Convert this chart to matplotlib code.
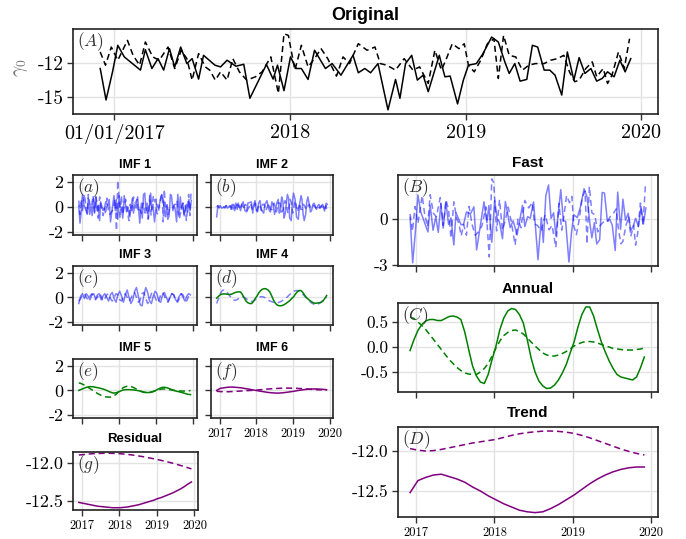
import matplotlib.pyplot as plt

plt.rcParams["mathtext.fontset"] = "cm"

W, H = 686, 539
OUT = "out.png"

BLUE = (0.0, 0.0, 1.0, 0.5)
GREEN = "#008000"
PURPLE = "#800080"
DASH = (0, (4, 2.5))

# --- original series (decimal years, gamma_0) ---
t_solid = [2016.920, 2016.953, 2016.990, 2017.020, 2017.057, 2017.149, 2017.177, 2017.214, 2017.249, 2017.281,
           2017.314, 2017.344, 2017.378, 2017.413, 2017.443, 2017.480, 2017.508, 2017.573, 2017.605, 2017.642,
           2017.692, 2017.737, 2017.772, 2017.866, 2017.904, 2017.929, 2017.966, 2018.003, 2018.036, 2018.065,
           2018.103, 2018.140, 2018.202, 2018.240, 2018.290, 2018.359, 2018.389, 2018.426, 2018.459, 2018.501,
           2018.558, 2018.601, 2018.626, 2018.658, 2018.693, 2018.725, 2018.758, 2018.787, 2018.850, 2018.882,
           2018.912, 2018.954, 2018.987, 2019.016, 2019.061, 2019.099, 2019.148, 2019.186, 2019.223, 2019.248,
           2019.280, 2019.310, 2019.348, 2019.380, 2019.410, 2019.447, 2019.479, 2019.509, 2019.547, 2019.579,
           2019.616, 2019.646, 2019.679, 2019.713, 2019.746, 2019.778, 2019.808, 2019.845, 2019.878, 2019.908,
           2019.940]
orig_solid = [-12.49, -15.23, -12.78, -10.47, -11.48, -12.63, -10.85, -12.49, -11.63, -12.63,
              -10.76, -12.35, -10.62, -12.06, -11.63, -13.41, -11.34, -12.20, -12.35, -11.77,
              -12.29, -12.12, -15.08, -12.14, -13.41, -12.20, -14.42, -11.48, -12.49, -12.49,
              -13.44, -10.90, -12.49, -12.06, -13.07, -11.34, -12.86, -12.49, -12.86, -12.06,
              -16.09, -13.44, -15.08, -12.06, -11.34, -13.50, -13.07, -14.51, -11.34, -13.21,
              -13.15, -15.57, -13.50, -12.20, -12.06, -11.19, -9.75, -10.18, -11.91, -12.92,
              -12.06, -13.59, -13.44, -10.47, -10.62, -12.63, -12.63, -13.07, -14.80, -11.05,
              -13.50, -11.54, -12.92, -12.49, -13.59, -13.35, -12.78, -13.21, -11.77, -12.78,
              -11.63]
t_dashed = [2016.920, 2016.950, 2016.983, 2017.020, 2017.075, 2017.107, 2017.144, 2017.177, 2017.219, 2017.256,
            2017.306, 2017.344, 2017.381, 2017.413, 2017.443, 2017.480, 2017.518, 2017.543, 2017.575, 2017.605,
            2017.642, 2017.675, 2017.712, 2017.754, 2017.804, 2017.841, 2017.891, 2017.934, 2017.966, 2017.991,
            2018.028, 2018.065, 2018.103, 2018.140, 2018.177, 2018.215, 2018.265, 2018.302, 2018.339, 2018.389,
            2018.439, 2018.484, 2018.514, 2018.551, 2018.601, 2018.650, 2018.700, 2018.738, 2018.787, 2018.825,
            2018.862, 2018.887, 2018.924, 2018.962, 2018.992, 2019.016, 2019.049, 2019.086, 2019.124, 2019.161,
            2019.186, 2019.216, 2019.248, 2019.285, 2019.323, 2019.360, 2019.397, 2019.447, 2019.484, 2019.522,
            2019.559, 2019.591, 2019.621, 2019.646, 2019.684, 2019.721, 2019.746, 2019.783, 2019.808, 2019.833,
            2019.870, 2019.903, 2019.933]
orig_dashed = [-11.05, -12.20, -10.62, -11.77, -10.04, -11.34, -12.20, -10.18, -11.48, -11.77,
               -10.62, -12.49, -10.90, -11.63, -13.50, -11.19, -12.35, -12.63, -13.50, -12.78,
               -13.50, -11.63, -12.78, -13.50, -13.21, -12.78, -11.48, -14.65, -9.46, -9.61,
               -12.63, -10.47, -12.35, -11.63, -10.76, -11.63, -13.15, -11.48, -12.06, -10.33,
               -10.90, -10.62, -12.06, -12.20, -12.63, -11.63, -12.63, -12.35, -13.79, -10.90,
               -12.63, -11.77, -10.33, -10.76, -10.33, -12.20, -12.78, -11.77, -10.33, -9.90,
               -13.35, -9.61, -11.34, -11.48, -12.63, -12.20, -12.06, -12.06, -11.77, -11.63,
               -11.34, -12.78, -13.64, -13.50, -12.49, -11.91, -13.21, -12.49, -13.79, -13.07,
               -11.05, -12.49, -9.90]

# --- fast component (same dates as the originals) ---
fast_solid = [0.10, -2.86, -0.67, 1.57, 0.45, -0.85, 0.91, -0.74, 0.13, -0.87,
              1.00, -0.60, 1.11, -0.35, 0.07, -1.70, 0.40, -0.38, -0.35, 0.46,
              0.32, 0.79, -2.02, 1.12, -0.24, 0.87, -1.52, 1.20, 0.01, -0.19,
              -1.29, 1.14, -0.56, -0.12, -1.04, 0.89, -0.50, 0.15, 0.05, 1.11,
              -2.66, 0.08, -1.53, 1.51, 2.22, 0.04, 0.40, -1.11, 1.91, -0.11,
              -0.15, -2.81, -0.89, 0.27, 0.09, 0.73, 1.97, 1.44, -0.30, -1.23,
              -0.24, -1.63, -1.36, 1.73, 1.69, -0.16, -0.04, -0.40, -2.06, 1.75,
              -0.67, 1.29, -0.08, 0.36, -0.73, -0.49, 0.04, -0.49, 0.81, -0.32,
              0.72]
fast_dashed = [0.32, -0.80, 0.81, -0.28, 1.52, 0.29, -0.51, 1.58, 0.37, 0.14,
               1.39, -0.42, 1.24, 0.56, -1.25, 1.12, 0.00, -0.26, -1.10, -0.36,
               -1.06, 0.82, -0.33, -1.06, -0.80, -0.43, 0.79, -2.48, 2.62, 2.37,
               -0.78, 1.26, -0.73, -0.06, 0.77, -0.15, -1.70, -0.01, -0.57, 1.21,
               0.72, 1.07, -0.33, -0.42, -0.78, 0.27, -0.71, -0.42, -1.86, 1.02,
               -0.73, 0.11, 1.53, 1.06, 1.47, -0.43, -1.03, -0.04, 1.39, 1.82,
               -1.63, 2.12, 0.40, 0.28, -0.84, -0.38, -0.20, -0.16, 0.16, 0.34,
               0.66, -0.77, -1.62, -1.46, -0.44, 0.16, -1.14, -0.41, -1.71, -0.99,
               1.04, -0.41, 2.18]

# --- IMF 1 and IMF 2 (same dates as the originals) ---
imf1_solid = [0.06, -1.3, -0.2, 1.0, 0.2, -0.6, 0.7, -0.6, 0.1, -0.7,
              0.7, -0.5, 0.8, -0.3, 0.1, -1.1, 0.4, -0.3, -0.2, 0.4,
              0.1, 0.6, -1.2, 0.9, -0.3, 0.6, -1.0, 0.9, 0.0, -0.1,
              -0.9, 0.9, -0.4, 0.0, -0.8, 0.7, -0.5, 0.2, -0.1, 0.8,
              -1.3, 0.3, -0.9, 1.0, 1.1, -0.3, 0.3, -0.9, 1.1, -0.2,
              0.2, -1.2, -0.3, 0.2, -0.1, 0.4, 1.0, 0.6, -0.4, -0.8,
              0.1, -1.0, -0.7, 1.0, 0.9, -0.3, 0.1, -0.2, -1.2, 1.0,
              -0.6, 0.8, -0.2, 0.3, -0.6, -0.3, 0.2, -0.4, 0.6, -0.3,
              0.5]
imf1_dashed = [0.5, -0.6, 0.6, -0.3, 1.0, 0.1, -0.5, 1.0, 0.2, 0.0,
               0.9, -0.4, 0.8, 0.3, -0.9, 0.8, 0.0, -0.2, -0.7, -0.1,
               -0.6, 0.7, -0.2, -0.6, -0.4, -0.2, 0.6, -1.9, 2.1, 1.2,
               -0.9, 0.9, -0.6, 0.0, 0.6, -0.1, -1.1, 0.2, -0.4, 0.8,
               0.3, 0.6, -0.4, -0.2, -0.5, 0.3, -0.5, -0.1, -1.0, 0.9,
               -0.7, 0.1, 0.9, 0.4, 0.8, -0.5, -0.6, 0.1, 0.8, 1.0,
               -1.2, 1.4, 0.0, 0.3, -0.6, -0.1, -0.1, -0.1, 0.2, 0.2,
               0.5, -0.5, -1.0, -0.6, 0.0, 0.3, -0.8, 0.1, -1.1, -0.4,
               1.0, -0.7, 1.1]
imf2_solid = [-0.8, 0.1, 0.0, 0.1, -0.1, 0.0, 0.1, -0.1, 0.0, 0.1,
              -0.2, 0.2, -0.1, -0.3, 0.3, -0.2, 0.3, -0.3, 0.2, 0.4,
              -0.3, -0.4, 0.3, 0.4, -0.5, 0.1, 0.5, -0.3, -0.4, 0.3,
              0.5, -0.2, -0.5, 0.2, 0.5, -0.3, -0.4, 0.4, 0.2, -0.6,
              0.3, 0.6, -0.5, -0.4, 0.8, 0.5, -0.9, -0.6, 1.0, 0.7,
              -0.9, -1.1, 0.4, 1.1, 0.6, -0.8, -1.0, 0.3, 0.9, 0.6,
              -0.6, -1.1, -0.6, 0.4, 0.8, 0.2, -0.4, -0.3, 0.2, 0.3,
              0.0, -0.2, 0.1, 0.2, -0.1, 0.0, 0.2, 0.0, -0.2, 0.3,
              0.2]
imf2_dashed = [0.0, 0.1, -0.1, 0.0, 0.1, 0.0, -0.1, 0.1, 0.0, -0.1,
               0.1, -0.2, 0.2, 0.0, -0.2, 0.2, 0.1, -0.2, 0.0, 0.2,
               -0.2, 0.1, 0.2, -0.3, 0.0, 0.3, -0.2, -0.2, 0.3, 0.1,
               -0.3, 0.2, 0.1, -0.3, 0.2, 0.2, -0.3, 0.0, 0.3, -0.2,
               -0.2, 0.3, 0.0, -0.4, 0.3, 0.3, -0.4, -0.2, 0.5, 0.2,
               -0.5, -0.3, 0.6, 0.3, -0.5, -0.3, 0.5, 0.2, -0.4, 0.0,
               0.3, -0.2, -0.2, 0.2, 0.1, -0.2, 0.0, 0.2, -0.1, -0.1,
               0.1, 0.1, -0.1, 0.0, 0.1, -0.1, 0.0, 0.1, -0.2, 0.0,
               -0.4, 0.1, -0.3]

# --- smoother components on a regular grid ---
t_fine = [2016.92, 2016.97, 2017.02, 2017.07, 2017.12, 2017.17, 2017.22, 2017.27, 2017.32, 2017.37,
          2017.42, 2017.47, 2017.52, 2017.57, 2017.62, 2017.67, 2017.72, 2017.77, 2017.82, 2017.87,
          2017.92, 2017.97, 2018.02, 2018.07, 2018.12, 2018.17, 2018.22, 2018.27, 2018.32, 2018.37,
          2018.42, 2018.47, 2018.52, 2018.57, 2018.62, 2018.67, 2018.72, 2018.77, 2018.82, 2018.87,
          2018.92, 2018.97, 2019.02, 2019.07, 2019.12, 2019.17, 2019.22, 2019.27, 2019.32, 2019.37,
          2019.42, 2019.47, 2019.52, 2019.57, 2019.62, 2019.67, 2019.72, 2019.77, 2019.82, 2019.87,
          2019.92]
t_coarse = t_fine[::2]

imf3_solid = [-0.5, 0.1, 0.3, -0.1, 0.3, 0.1, -0.2, 0.2, 0.3, -0.1,
              0.2, 0.3, -0.2, 0.1, 0.3, 0.0, -0.3, 0.2, 0.4, -0.1,
              -0.4, 0.2, 0.5, 0.1, -0.4, 0.2, 0.6, 0.0, -0.5, -0.2,
              0.5, 0.8, 0.1, -0.6, -0.7, 0.2, 0.8, 0.4, -0.3, -0.5,
              0.1, 0.5, 0.3, -0.3, -0.4, 0.2, 0.4, 0.0, -0.3, 0.0,
              0.3, 0.2, -0.2, -0.3, 0.1, 0.3, 0.0, -0.3, 0.1, 0.3,
              0.2]
imf3_dashed = [-0.3, -0.1, 0.2, 0.3, 0.0, -0.2, 0.1, 0.3, 0.1, -0.2,
               0.0, 0.3, 0.1, -0.3, -0.1, 0.2, 0.3, -0.1, -0.3, 0.0,
               0.3, 0.2, -0.2, -0.3, 0.1, 0.3, 0.0, -0.3, -0.1, 0.3,
               0.4, 0.0, -0.4, -0.2, 0.3, 0.4, -0.1, -0.5, -0.2, 0.3,
               0.4, 0.0, -0.4, -0.3, 0.2, 0.4, 0.1, -0.3, -0.4, 0.0,
               0.3, 0.2, -0.2, -0.4, -0.1, 0.3, 0.2, -0.2, -0.3, 0.1,
               0.3]
imf4_solid = [-0.07, 0.09, 0.21, 0.27, 0.28, 0.27, 0.25, 0.23, 0.25, 0.32,
              0.39, 0.43, 0.45, 0.44, 0.24, -0.04, -0.30, -0.44, -0.50, -0.51,
              -0.35, -0.10, 0.10, 0.37, 0.55, 0.67, 0.71, 0.69, 0.60, 0.44,
              0.13, -0.22, -0.47, -0.62, -0.68, -0.69, -0.65, -0.58, -0.48, -0.37,
              -0.25, -0.09, 0.05, 0.27, 0.45, 0.56, 0.55, 0.40, 0.17, -0.02,
              -0.15, -0.28, -0.38, -0.46, -0.48, -0.46, -0.44, -0.41, -0.30, -0.09,
              0.15]
imf4_dashed = [-0.5, -0.1, 0.3, 0.55, 0.6, 0.5, 0.35, 0.15, -0.05, -0.2,
               -0.25, -0.2, -0.1, 0.0, 0.05, 0.0, -0.1, -0.2, -0.3, -0.35,
               -0.3, -0.2, -0.1, 0.0, 0.05, 0.05, 0.0, -0.1, -0.2, -0.3,
               -0.35, -0.4, -0.45, -0.45, -0.4, -0.35, -0.25, -0.15, -0.05, 0.1,
               0.25, 0.38, 0.48, 0.55, 0.55, 0.5, 0.4, 0.25, 0.1, -0.05,
               -0.2, -0.35, -0.48, -0.55, -0.6, -0.58, -0.5, -0.38, -0.25, -0.12,
               0.0]
imf5_solid = [0.0, 0.06, 0.12, 0.18, 0.24, 0.28, 0.30, 0.30, 0.28, 0.25,
              0.22, 0.19, 0.15, 0.11, 0.06, -0.01, -0.08, -0.14, -0.20, -0.22,
              -0.20, -0.15, -0.08, -0.02, 0.03, 0.05, 0.06, 0.06, 0.05, 0.04,
              0.02, 0.0, -0.03, -0.06, -0.10, -0.14, -0.17, -0.18, -0.18, -0.15,
              -0.10, -0.03, 0.05, 0.13, 0.20, 0.24, 0.25, 0.22, 0.18, 0.12,
              0.05, 0.0, -0.05, -0.09, -0.12, -0.16, -0.20, -0.25, -0.30, -0.33,
              -0.35]
annual_solid = [-0.07, 0.15, 0.33, 0.45, 0.52, 0.55, 0.55, 0.53, 0.53, 0.57,
                0.61, 0.62, 0.60, 0.55, 0.30, -0.05, -0.38, -0.58, -0.70, -0.73,
                -0.55, -0.25, 0.02, 0.35, 0.58, 0.72, 0.77, 0.75, 0.65, 0.48,
                0.15, -0.22, -0.50, -0.68, -0.78, -0.83, -0.82, -0.76, -0.66, -0.52,
                -0.35, -0.12, 0.10, 0.40, 0.65, 0.80, 0.80, 0.62, 0.35, 0.10,
                -0.10, -0.28, -0.43, -0.55, -0.60, -0.62, -0.64, -0.66, -0.60, -0.42,
                -0.20]
annual_dashed = [0.60, 0.57, 0.50, 0.43, 0.35, 0.25, 0.15, 0.05, -0.05, -0.15,
                 -0.25, -0.33, -0.41, -0.47, -0.52, -0.54, -0.55, -0.55, -0.50, -0.43,
                 -0.33, -0.18, -0.02, 0.12, 0.23, 0.29, 0.33, 0.34, 0.31, 0.26,
                 0.18, 0.10, 0.02, -0.05, -0.12, -0.16, -0.18, -0.18, -0.16, -0.13,
                 -0.09, -0.04, 0.02, 0.06, 0.09, 0.11, 0.11, 0.10, 0.08, 0.05,
                 0.02, 0.0, -0.03, -0.04, -0.05, -0.06, -0.06, -0.06, -0.05, -0.04,
                 -0.02]
imf5_dashed = annual_dashed

imf6_solid = [0.0, 0.16, 0.21, 0.25, 0.27, 0.25, 0.225, 0.19, 0.135, 0.09,
              0.03, -0.02, -0.075, -0.12, -0.17, -0.2, -0.22, -0.225, -0.2, -0.165,
              -0.12, -0.08, -0.025, 0.025, 0.065, 0.095, 0.11, 0.115, 0.105, 0.08,
              0.05]
imf6_dashed = [-0.075, -0.10, -0.115, -0.115, -0.103, -0.085, -0.067, -0.048, -0.028, -0.012,
               0.005, 0.023, 0.052, 0.082, 0.108, 0.13, 0.148, 0.164, 0.175, 0.18,
               0.18, 0.175, 0.161, 0.143, 0.12, 0.098, 0.077, 0.056, 0.041, 0.032,
               0.028]
resid_solid = [-12.52, -12.53, -12.54, -12.55, -12.56, -12.57, -12.575, -12.58, -12.585, -12.59,
               -12.59, -12.59, -12.585, -12.58, -12.57, -12.56, -12.55, -12.535, -12.52, -12.505,
               -12.49, -12.47, -12.455, -12.435, -12.415, -12.395, -12.37, -12.345, -12.315, -12.28,
               -12.25]
resid_dashed = [-11.895, -11.89, -11.885, -11.88, -11.877, -11.875, -11.873, -11.872, -11.872, -11.873,
                -11.875, -11.878, -11.882, -11.887, -11.893, -11.9, -11.908, -11.916, -11.925, -11.935,
                -11.945, -11.955, -11.966, -11.978, -11.99, -12.003, -12.017, -12.031, -12.046, -12.062,
                -12.078]
trend_solid = [-12.52, -12.37, -12.33, -12.30, -12.29, -12.32, -12.35, -12.39, -12.45, -12.50,
               -12.56, -12.61, -12.66, -12.70, -12.74, -12.76, -12.77, -12.76, -12.72, -12.67,
               -12.61, -12.55, -12.48, -12.41, -12.35, -12.30, -12.26, -12.23, -12.21, -12.20,
               -12.20]
trend_dashed = [-11.97, -11.99, -12.0, -11.995, -11.98, -11.96, -11.94, -11.92, -11.90, -11.885,
                -11.87, -11.855, -11.83, -11.805, -11.785, -11.77, -11.76, -11.752, -11.75, -11.755,
                -11.765, -11.78, -11.805, -11.835, -11.87, -11.905, -11.94, -11.975, -12.005, -12.03,
                -12.05]

YEARS = [2017, 2018, 2019, 2020]
XLIM = (2016.765, 2020.095)
TICK_FONT = "cmr10"
TITLE_FONT = "Liberation Sans"

fig = plt.figure(figsize=(W / 100, H / 100), dpi=100)


def px_axes(left, top, right, bottom):
    return fig.add_axes([left / W, 1 - bottom / H, (right - left) / W, (bottom - top) / H])


def style(ax, ylim, yticks, ylabels, ysize, xlabels=None, xsize=9):
    ax.set_xlim(*XLIM)
    ax.set_ylim(*ylim)
    ax.set_xticks(YEARS)
    ax.set_xticklabels(xlabels if xlabels else ["", "", "", ""], fontsize=xsize, family=TICK_FONT)
    ax.set_yticks(yticks)
    ax.set_yticklabels(ylabels, fontsize=ysize, family=TICK_FONT)
    # grid.alpha would override an rgba alpha, so use the blended grey directly
    ax.grid(True, color="#e3e3e3", lw=1.0)
    ax.set_axisbelow(True)
    for s in ax.spines.values():
        s.set_color("#222222")
        s.set_linewidth(1.2)
    ax.tick_params(direction="out", length=4.5, width=1.0, color="#333333", pad=2.5)


def panel_label(ax, lab, size=12.5):
    ax.annotate(f"$({lab})$", xy=(0, 1), xycoords="axes fraction", xytext=(3, -1),
                textcoords="offset points", ha="left", va="top", fontsize=size, color="#333333")


def title(cx, cy, text, size):
    fig.text(cx / W, 1 - cy / H, text, ha="center", va="center", fontsize=size,
             fontweight="bold", family=TITLE_FONT)


def pair(ax, xs, ys, xd, yd, color):
    ax.plot(xs, ys, color=color, lw=1.1)
    ax.plot(xd, yd, color=color, lw=1.1, linestyle=DASH)


# Original
ax = px_axes(73, 29, 658, 114)
pair(ax, t_solid, orig_solid, t_dashed, orig_dashed, "black")
style(ax, (-16.45, -9.05), [-15, -12], ["-15", "-12"], 14,
      ["01/01/2017", "2018", "2019", "2020"], 14.5)
panel_label(ax, "A")
title(365, 15, "Original", 13)
fig.text(21 / W, 1 - 68 / H, r"$\gamma_0$", rotation=90, ha="center", va="center",
         fontsize=14, color="#777777")

IMF_LIM = (-2.25, 2.55)
imf_ticks = ([-2, 0, 2], ["-2", "0", "2"])

ax = px_axes(73, 175, 197, 235)
pair(ax, t_solid, imf1_solid, t_dashed, imf1_dashed, BLUE)
style(ax, IMF_LIM, *imf_ticks, 13)
panel_label(ax, "a")
title(135, 165, "IMF 1", 9)

ax = px_axes(211, 175, 333, 235)
pair(ax, t_solid, imf2_solid, t_dashed, imf2_dashed, BLUE)
style(ax, IMF_LIM, [-2, 0, 2], ["", "", ""], 13)
panel_label(ax, "b")
title(272, 165, "IMF 2", 9)

ax = px_axes(73, 266, 197, 325)
pair(ax, t_fine, imf3_solid, t_fine, imf3_dashed, BLUE)
style(ax, IMF_LIM, *imf_ticks, 13)
panel_label(ax, "c")
title(135, 255, "IMF 3", 9)

ax = px_axes(211, 266, 333, 325)
ax.plot(t_fine, imf4_dashed, color=BLUE, lw=1.1, linestyle=DASH)
ax.plot(t_fine, imf4_solid, color=GREEN, lw=1.1)
style(ax, IMF_LIM, [-2, 0, 2], ["", "", ""], 13)
panel_label(ax, "d")
title(272, 255, "IMF 4", 9)

ax = px_axes(73, 359, 197, 418)
pair(ax, t_fine, imf5_solid, t_fine, imf5_dashed, GREEN)
style(ax, IMF_LIM, *imf_ticks, 13)
panel_label(ax, "e")
title(135, 348, "IMF 5", 9)

ax = px_axes(211, 359, 333, 418)
pair(ax, t_coarse, imf6_solid, t_coarse, imf6_dashed, PURPLE)
style(ax, IMF_LIM, [-2, 0, 2], ["", "", ""], 13, ["2017", "2018", "2019", "2020"], 9)
panel_label(ax, "f")
title(272, 348, "IMF 6", 9)

ax = px_axes(73, 452, 198, 510)
pair(ax, t_coarse, resid_solid, t_coarse, resid_dashed, PURPLE)
style(ax, (-12.62, -11.855), [-12.5, -12.0], ["-12.5", "-12.0"], 13,
      ["2017", "2018", "2019", "2020"], 9)
panel_label(ax, "g")
title(135, 439, "Residual", 9.5)

# right column
ax = px_axes(398, 175, 658, 266)
pair(ax, t_solid, fast_solid, t_dashed, fast_dashed, BLUE)
style(ax, (-3.07, 2.87), [-3, 0], ["-3", "0"], 12.5)
panel_label(ax, "B")
title(528, 163, "Fast", 11)

ax = px_axes(398, 303, 658, 392)
pair(ax, t_fine, annual_solid, t_fine, annual_dashed, GREEN)
style(ax, (-0.9, 0.88), [-0.5, 0.0, 0.5], ["-0.5", "0.0", "0.5"], 12.5)
panel_label(ax, "C")
title(528, 289, "Annual", 11)

ax = px_axes(398, 427, 658, 517)
pair(ax, t_coarse, trend_solid, t_coarse, trend_dashed, PURPLE)
style(ax, (-12.825, -11.7), [-12.5, -12.0], ["-12.5", "-12.0"], 12.5,
      ["2017", "2018", "2019", "2020"], 9)
panel_label(ax, "D")
title(528, 413, "Trend", 11)

fig.savefig(OUT, dpi=100)
